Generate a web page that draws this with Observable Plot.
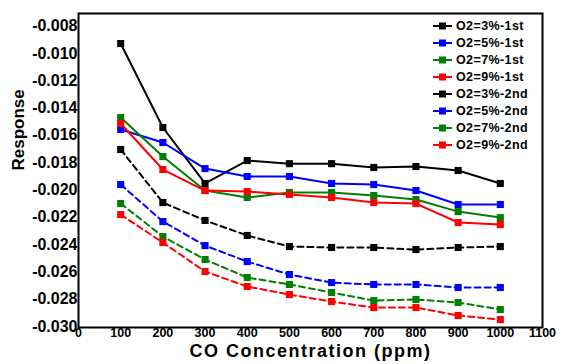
<!DOCTYPE html>
<html>
<head>
<meta charset="utf-8">
<script src="https://cdn.jsdelivr.net/npm/d3@7"></script>
<script src="https://cdn.jsdelivr.net/npm/@observablehq/plot@0.6"></script>
<style>
  html, body { margin: 0; padding: 0; background: #fff; }
  #chart { position: relative; width: 563px; height: 364px; }
</style>
</head>
<body>
<div id="chart"></div>
<script>
// CO concentration (ppm)
const conc = [100, 200, 300, 400, 500, 600, 700, 800, 900, 1000];

// Responses
const o2_3_1st = [-0.0092, -0.01535, -0.01945, -0.01777, -0.0180, -0.0180, -0.01828, -0.01821, -0.0185, -0.01945];
const o2_5_1st = [-0.0155, -0.01645, -0.01836, -0.01894, -0.01894, -0.01945, -0.01953, -0.01997, -0.02099, -0.02099];
const o2_7_1st = [-0.01462, -0.01748, -0.01997, -0.02048, -0.02011, -0.02011, -0.02033, -0.02063, -0.02151, -0.02195];
const o2_9_1st = [-0.01506, -0.01843, -0.01997, -0.02004, -0.02026, -0.02048, -0.02085, -0.02092, -0.02231, -0.02246];
const o2_3_2nd = [-0.01696, -0.02085, -0.02216, -0.02326, -0.02407, -0.02414, -0.02414, -0.02429, -0.02414, -0.02407];
const o2_5_2nd = [-0.01953, -0.02224, -0.0240, -0.02517, -0.02612, -0.02671, -0.02685, -0.02685, -0.02707, -0.02707];
const o2_7_2nd = [-0.02092, -0.02334, -0.02502, -0.02634, -0.02685, -0.02744, -0.02803, -0.02795, -0.02817, -0.02868];
const o2_9_2nd = [-0.02173, -0.02378, -0.0259, -0.0270, -0.02759, -0.0281, -0.02854, -0.02854, -0.02912, -0.02942];

const seriesNames = ["O2=3%-1st", "O2=5%-1st", "O2=7%-1st", "O2=9%-1st",
                     "O2=3%-2nd", "O2=5%-2nd", "O2=7%-2nd", "O2=9%-2nd"];
const seriesValues = [o2_3_1st, o2_5_1st, o2_7_1st, o2_9_1st, o2_3_2nd, o2_5_2nd, o2_7_2nd, o2_9_2nd];
const seriesColors = ["#000000", "#0000ff", "#008000", "#ff0000", "#000000", "#0000ff", "#008000", "#ff0000"];
const seriesDashed = [false, false, false, false, true, true, true, true];

const xTicks = [0, 100, 200, 300, 400, 500, 600, 700, 800, 900, 1000, 1100];
const yTicks = [-0.030, -0.028, -0.026, -0.024, -0.022, -0.020, -0.018, -0.016, -0.014, -0.012, -0.010, -0.008];

const xTitle = "CO Concentration (ppm)";
const yTitle = "Response";

const rows = [];
seriesNames.forEach((name, i) => {
  seriesValues[i].forEach((v, j) => rows.push({series: name, idx: i, x: conc[j], y: v}));
});

const font = "'Liberation Sans', Arial, sans-serif";

const marks = [];
seriesNames.forEach((name, i) => {
  const d = rows.filter(r => r.idx === i);
  marks.push(Plot.line(d, {
    x: "x", y: "y", stroke: seriesColors[i], strokeWidth: 2,
    strokeDasharray: seriesDashed[i] ? "6,4" : null
  }));
  marks.push(Plot.dot(d, {
    x: "x", y: "y", symbol: "square", r: 4, fill: seriesColors[i], stroke: "none"
  }));
});

const plot = Plot.plot({
  width: 563,
  height: 364,
  marginLeft: 78,
  marginRight: 21,
  marginTop: 13,
  marginBottom: 37,
  style: {fontFamily: font, background: "#fff", color: "#000"},
  x: {domain: [0, 1100]},
  y: {domain: [-0.030, -0.007]},
  marks: [
    ...marks,
    Plot.frame({stroke: "#000", strokeWidth: 2}),
    Plot.axisX({ticks: xTicks, tickSize: 0, tickPadding: 1, label: null,
      tickFormat: d => String(d), fontSize: 12.5, fontWeight: "bold"}),
    Plot.axisY({ticks: yTicks, tickSize: 0, tickPadding: 1, label: null,
      tickFormat: d => d.toFixed(3), fontSize: 16, fontWeight: "bold", dy: -1}),
    Plot.text([xTitle], {frameAnchor: "bottom", dy: 29, dx: 0, text: d => d,
      fontSize: 18, fontWeight: "bold", lineAnchor: "bottom", fill: "#000"}),
    Plot.text([yTitle], {frameAnchor: "left", dx: -60, text: d => d, rotate: -90,
      fontSize: 17, fontWeight: "bold", fill: "#000"})
  ]
});

document.getElementById("chart").appendChild(plot);

// letter spacing for the x title
d3.select(plot).selectAll("text").filter(function() { return this.textContent === xTitle; })
  .attr("letter-spacing", "1.5px");

// Legend inside the plot frame (top-right)
const svg = d3.select(plot);
const lg = svg.append("g").attr("font-family", font).attr("font-size", 12.5)
  .attr("font-weight", "bold").attr("text-anchor", "start");
seriesNames.forEach((name, i) => {
  const cy = 26 + i * 17;
  lg.append("line").attr("x1", 433).attr("x2", 452).attr("y1", cy).attr("y2", cy)
    .attr("stroke", seriesColors[i]).attr("stroke-width", 2);
  lg.append("rect").attr("x", 439).attr("y", cy - 3.5).attr("width", 7).attr("height", 7)
    .attr("fill", seriesColors[i]);
  lg.append("text").attr("x", 456).attr("y", cy).attr("dy", "0.35em")
    .attr("text-anchor", "start")
    .attr("letter-spacing", "0.4px").attr("fill", "#000").text(name);
});
</script>
</body>
</html>
